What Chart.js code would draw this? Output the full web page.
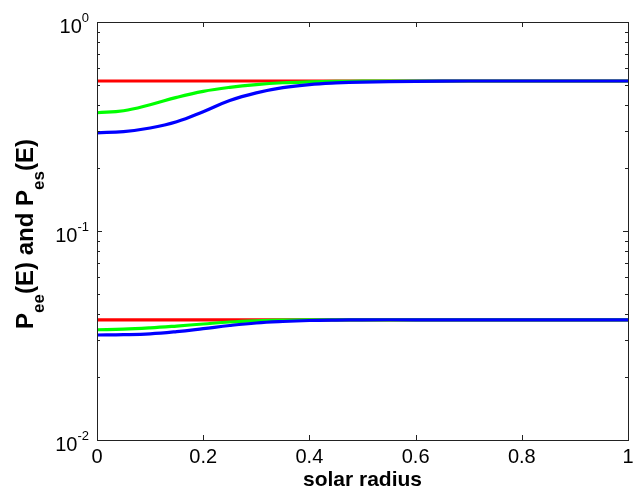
<!DOCTYPE html>
<html>
<head>
<meta charset="utf-8">
<script src="https://cdn.jsdelivr.net/npm/chart.js@4/dist/chart.umd.min.js"></script>
<style>
  html, body { margin: 0; padding: 0; background: #fff; }
  #wrap { width: 640px; height: 495px; }
</style>
</head>
<body>
<div id="wrap"><canvas id="chart"></canvas></div>
<script>
// solar radius sample points
const radius = [0, 0.05, 0.1, 0.15, 0.2, 0.25, 0.3, 0.35, 0.4, 0.45, 0.5, 0.6, 0.7, 0.8, 0.9, 1.0]

// upper group
const upperRed   = [0.522, 0.522, 0.522, 0.522, 0.522, 0.522, 0.522, 0.522, 0.522, 0.522, 0.522, 0.522, 0.522, 0.522, 0.522, 0.522]
const upperGreen = [0.368, 0.376, 0.402, 0.436, 0.466, 0.487, 0.502, 0.512, 0.517, 0.520, 0.521, 0.522, 0.522, 0.522, 0.522, 0.522]
const upperBlue  = [0.295, 0.299, 0.311, 0.333, 0.372, 0.421, 0.458, 0.485, 0.502, 0.511, 0.516, 0.520, 0.522, 0.522, 0.522, 0.522]

// lower group
const lowerRed   = [0.0376, 0.0376, 0.0376, 0.0376, 0.0376, 0.0376, 0.0376, 0.0376, 0.0376, 0.0376, 0.0376, 0.0376, 0.0376, 0.0376, 0.0376, 0.0376]
const lowerGreen = [0.0337, 0.0339, 0.0344, 0.0351, 0.0359, 0.0367, 0.0372, 0.0375, 0.0376, 0.0376, 0.0376, 0.0376, 0.0376, 0.0376, 0.0376, 0.0376]
const lowerBlue  = [0.0318, 0.0319, 0.0322, 0.0330, 0.0341, 0.0353, 0.0363, 0.0369, 0.0373, 0.0375, 0.0376, 0.0376, 0.0376, 0.0376, 0.0376, 0.0376]

const xTicks = [0, 0.2, 0.4, 0.6, 0.8, 1]
const yDecades = [-2, -1, 0]

const RED = '#ff0000'
const GREEN = '#00ff00'
const BLUE = '#0000ff'

function toPoints(ys) {
  return radius.map((r, i) => ({ x: r, y: ys[i] }))
}

function line(label, ys, color, order) {
  return {
    label,
    data: toPoints(ys),
    borderColor: color,
    backgroundColor: color,
    borderWidth: 3.2,
    pointRadius: 0,
    tension: 0.4,
    fill: false,
    order,
  }
}

const datasets = [
  line('Pee red', upperRed, RED, 2),
  line('Pee green', upperGreen, GREEN, 1),
  line('Pee blue', upperBlue, BLUE, 0),
  line('Pes red', lowerRed, RED, 2),
  line('Pes green', lowerGreen, GREEN, 1),
  line('Pes blue', lowerBlue, BLUE, 0),
]

const FONT = '"Liberation Sans", Arial, sans-serif'

// axes box, inward ticks, 10^n labels and the subscripted y title
const axesDecor = {
  id: 'axesDecor',
  afterDraw(chart) {
    const { ctx, chartArea: { left, right, top, bottom }, scales: { x, y } } = chart
    ctx.save()
    ctx.strokeStyle = '#222'
    ctx.lineWidth = 1
    ctx.strokeRect(Math.round(left) + 0.5, Math.round(top) + 0.5, Math.round(right - left), Math.round(bottom - top))

    ctx.beginPath()
    for (const v of xTicks) {
      const px = Math.round(x.getPixelForValue(v)) + 0.5
      ctx.moveTo(px, bottom); ctx.lineTo(px, bottom - 5)
      ctx.moveTo(px, top); ctx.lineTo(px, top + 5)
    }
    for (const d of yDecades) {
      const py = Math.round(y.getPixelForValue(Math.pow(10, d))) + 0.5
      ctx.moveTo(left, py); ctx.lineTo(left + 5, py)
      ctx.moveTo(right, py); ctx.lineTo(right - 5, py)
      if (d === 0) continue
      for (let m = 2; m <= 9; m++) {
        const pm = Math.round(y.getPixelForValue(m * Math.pow(10, d))) + 0.5
        ctx.moveTo(left, pm); ctx.lineTo(left + 3, pm)
        ctx.moveTo(right, pm); ctx.lineTo(right - 3, pm)
      }
    }
    ctx.stroke()

    // y tick labels as 10 with superscript exponent
    ctx.fillStyle = '#000'
    ctx.textBaseline = 'alphabetic'
    for (const d of yDecades) {
      const py = y.getPixelForValue(Math.pow(10, d))
      const exp = String(d)
      ctx.font = '13px ' + FONT
      const ew = ctx.measureText(exp).width
      const rightEdge = 89
      ctx.textAlign = 'left'
      ctx.fillText(exp, rightEdge - ew, py + 0)
      ctx.font = '20px ' + FONT
      ctx.textAlign = 'right'
      ctx.fillText('10', rightEdge - ew, py + 11)
    }

    // y title: P_ee(E) and P_es(E)
    const parts = [
      ['P', false], ['ee', true], ['(E) and P', false], ['es', true], ['(E)', false],
    ]
    const mainFont = 'bold 24px ' + FONT
    const subFont = 'bold 17px ' + FONT
    let total = 0
    for (const [t, sub] of parts) {
      ctx.font = sub ? subFont : mainFont
      total += ctx.measureText(t).width
    }
    ctx.translate(33, (top + bottom) / 2 + 3)
    ctx.rotate(-Math.PI / 2)
    ctx.textAlign = 'left'
    let cx = -total / 2
    for (const [t, sub] of parts) {
      ctx.font = sub ? subFont : mainFont
      ctx.fillText(t, cx, sub ? 11 : 0)
      cx += ctx.measureText(t).width
    }
    ctx.restore()
  },
}

new Chart(document.getElementById('chart'), {
  type: 'line',
  data: { datasets },
  options: {
    responsive: true,
    maintainAspectRatio: false,
    animation: false,
    layout: { padding: { left: 0, right: 12, top: 22, bottom: 0 } },
    plugins: {
      legend: { display: false },
      tooltip: { enabled: false },
    },
    scales: {
      x: {
        type: 'linear',
        min: 0,
        max: 1,
        afterBuildTicks: (scale) => { scale.ticks = xTicks.map(v => ({ value: v })) },
        afterFit: (scale) => { scale.height = 55 },
        grid: { display: false, drawTicks: false },
        border: { display: false },
        ticks: {
          color: '#000',
          padding: 5,
          maxRotation: 0,
          autoSkip: false,
          font: { family: FONT, size: 20 },
          callback: v => String(v),
        },
        title: {
          display: true,
          text: 'solar radius',
          color: '#000',
          font: { family: FONT, size: 21, weight: 'bold' },
          padding: { top: 0, bottom: 2 },
        },
      },
      y: {
        type: 'logarithmic',
        min: 0.01,
        max: 1,
        afterFit: (scale) => { scale.width = 97 },
        grid: { display: false, drawTicks: false },
        border: { display: false },
        ticks: { display: false },
      },
    },
  },
  plugins: [axesDecor],
})
</script>
</body>
</html>
